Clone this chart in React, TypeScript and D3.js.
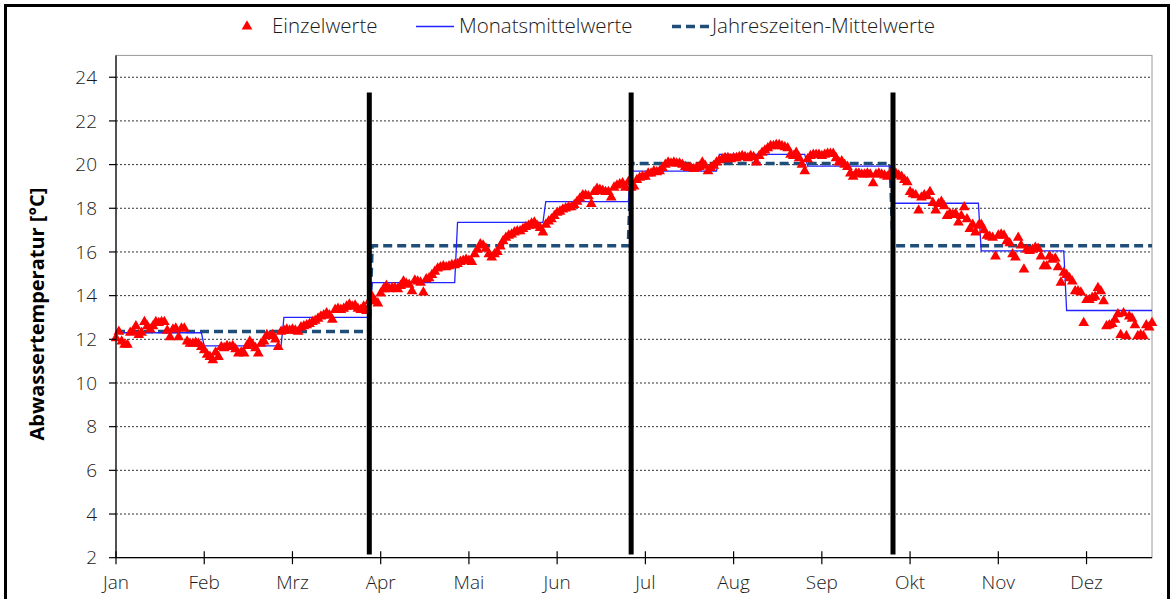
import * as d3 from "d3";

// Tageswerte (Einzelwerte) je Monat, °C
const jan = [12.05, 12.35, 11.9, 11.75, 11.75, 12.3, 12.35, 12.6, 12.2, 12.3, 12.8, 12.6, 12.45, 12.6, 12.8, 12.75, 12.8, 12.8, 12.4, 12.1, 12.45, 12.5, 12.1, 12.5, 12.5, 11.9, 11.8, 11.8, 11.85, 11.8, 11.65];
const feb = [11.5, 11.3, 11.2, 11.05, 11.4, 11.2, 11.65, 11.6, 11.7, 11.65, 11.7, 11.55, 11.35, 11.4, 11.35, 11.7, 11.9, 11.75, 11.6, 11.35, 11.8, 11.9, 12.2, 12.15, 12.2, 12.0, 11.65, 12.35];
const mrz = [12.4, 12.45, 12.4, 12.45, 12.4, 12.35, 12.55, 12.6, 12.65, 12.7, 12.8, 12.85, 12.95, 13.05, 13.1, 13.2, 13.1, 12.9, 13.35, 13.4, 13.35, 13.4, 13.5, 13.6, 13.5, 13.55, 13.4, 13.35, 13.5, 13.3, 13.75];
const apr = [13.95, 13.75, 13.65, 14.1, 14.3, 14.45, 14.3, 14.35, 14.35, 14.3, 14.45, 14.65, 14.55, 14.5, 14.2, 14.7, 14.65, 14.6, 14.15, 14.75, 14.8, 14.95, 15.1, 15.25, 15.3, 15.35, 15.3, 15.35, 15.4, 15.4];
const mai = [15.45, 15.55, 15.6, 15.65, 15.6, 15.55, 15.9, 16.1, 16.35, 16.3, 16.15, 15.9, 15.75, 15.9, 16.0, 16.25, 16.5, 16.65, 16.75, 16.8, 16.9, 16.95, 16.95, 17.05, 17.15, 17.2, 17.3, 17.35, 17.2, 17.1, 16.9];
const jun = [17.25, 17.4, 17.5, 17.65, 17.8, 17.85, 17.95, 18.0, 18.05, 18.05, 18.15, 18.3, 18.45, 18.6, 18.6, 18.55, 18.2, 18.75, 18.9, 18.85, 18.8, 18.75, 18.75, 18.5, 18.95, 19.05, 19.1, 19.15, 18.95, 19.2];
const jul = [18.95, 19.0, 19.3, 19.4, 19.45, 19.45, 19.6, 19.6, 19.7, 19.65, 19.7, 19.85, 20.0, 20.1, 20.05, 20.1, 20.05, 20.05, 20.0, 19.9, 19.85, 19.85, 19.8, 19.85, 19.9, 20.1, 19.95, 19.7, 19.85, 19.95, 20.1];
const aug = [20.2, 20.25, 20.3, 20.3, 20.25, 20.3, 20.3, 20.35, 20.4, 20.35, 20.3, 20.4, 20.35, 20.1, 20.4, 20.55, 20.65, 20.75, 20.85, 20.85, 20.9, 20.9, 20.85, 20.8, 20.75, 20.45, 20.4, 20.55, 20.3, 20.0, 19.7];
const sep = [20.25, 20.4, 20.45, 20.45, 20.45, 20.4, 20.45, 20.5, 20.5, 20.5, 20.3, 20.1, 20.15, 20.0, 19.9, 19.6, 19.45, 19.6, 19.6, 19.55, 19.55, 19.6, 19.55, 19.15, 19.55, 19.6, 19.55, 19.5, 19.45, 19.6];
const okt = [19.65, 19.6, 19.5, 19.45, 19.3, 19.2, 18.75, 18.65, 18.6, 17.9, 18.5, 18.6, 18.55, 18.75, 18.25, 17.9, 18.2, 18.3, 18.1, 17.65, 17.75, 17.7, 17.75, 17.35, 17.65, 18.05, 17.5, 17.05, 17.25, 16.9, 17.2];
const nov = [17.25, 17.0, 16.75, 16.7, 16.65, 15.8, 16.75, 16.8, 16.75, 16.5, 16.4, 15.9, 15.75, 16.65, 16.3, 15.2, 16.1, 16.05, 16.1, 16.2, 16.15, 15.8, 15.35, 15.35, 15.8, 15.65, 15.7, 15.3, 14.6, 15.05];
const dez = [14.95, 14.8, 14.65, 14.2, 14.2, 14.15, 12.75, 13.8, 13.8, 13.9, 13.95, 14.35, 14.2, 13.75, 12.6, 12.65, 12.7, 12.9, 13.15, 12.2, 13.2, 12.15, 13.05, 12.95, 12.65, 12.15, 12.2, 12.15, 12.65, 12.55, 12.75];

const monthNames = ["Jan", "Feb", "Mrz", "Apr", "Mai", "Jun", "Jul", "Aug", "Sep", "Okt", "Nov", "Dez"];
const monthMeans = [12.3, 11.7, 13.0, 14.6, 17.35, 18.3, 19.7, 20.47, 19.93, 18.23, 16.05, 13.32];
const seasonMeans = [12.36, 16.28, 20.05, 16.28];
const seasonBreaks = [89, 181, 273]; // Tag-Index der Jahreszeitenwechsel
const yTicks = [2, 4, 6, 8, 10, 12, 14, 16, 18, 20, 22, 24];

const W = 1176;
const H = 599;
const font = "'Open Sans', 'DejaVu Sans', sans-serif";

const months = [jan, feb, mrz, apr, mai, jun, jul, aug, sep, okt, nov, dez];

export default function App() {
    const daily = months.flat();
    const monthly = months.flatMap((m, i) => m.map(() => monthMeans[i]));
    const seasonal = months.flatMap((m, i) => m.map(() => seasonMeans[Math.floor(i / 3)]));

    // Kategorienachse: 365 Tage, Teilstriche alle 31 Tage
    const x = d3.scaleLinear().domain([0, daily.length - 1]).range([116, 1152]);
    const y = d3.scaleLinear().domain([2, 25]).range([557.7, 55.4]);
    const tickDays = monthNames.map((_, i) => i * 31);

    const line = d3.line<number>().x((_, i) => x(i)).y((d) => y(d));
    const tri = d3.symbol(d3.symbolTriangle, 50)() as string;

    const [x0, x1] = x.range();
    const [yb, yt] = y.range();

    return (
        <svg width={W} height={H} style={{ position: "absolute", left: 0, top: 0, background: "#fff" }} fontFamily={font}>
            <rect x={0} y={0} width={W} height={H} fill="#fff" />
            {/* Rahmen */}
            <rect x={5.5} y={5.5} width={1163} height={620} fill="none" stroke="#000" strokeWidth={3} />

            {/* Legende */}
            <g fontSize={20.5} fill="#1a1a1a" fontWeight={300}>
                <path d={tri} transform="translate(247,26.5)" fill="#ff0000" />
                <text x={272} y={33}>Einzelwerte</text>
                <line x1={416} x2={454} y1={26.5} y2={26.5} stroke="#2323ff" strokeWidth={1.3} />
                <text x={459} y={33}>Monatsmittelwerte</text>
                <line x1={672} x2={712} y1={26.5} y2={26.5} stroke="#1f4e79" strokeWidth={3.5} strokeDasharray="9,5" />
                <text x={712} y={33}>Jahreszeiten-Mittelwerte</text>
            </g>

            {/* Gitterlinien */}
            {yTicks.filter((t) => t > 2).map((t) => (
                <line key={t} x1={x0} x2={x1} y1={y(t)} y2={y(t)} stroke="#333" strokeWidth={1} strokeDasharray="2,2" />
            ))}
            <rect x={x0} y={yt} width={x1 - x0} height={yb - yt} fill="none" stroke="#9a9a9a" strokeWidth={1} />

            {/* Reihen */}
            <path d={line(seasonal) ?? ""} fill="none" stroke="#1f4e79" strokeWidth={3.5} strokeDasharray="9,5" />
            <path d={line(monthly) ?? ""} fill="none" stroke="#2323ff" strokeWidth={1.3} />
            <g fill="#ff0000">
                {daily.map((v, i) => (
                    <path key={i} d={tri} transform={`translate(${x(i)},${y(v)})`} />
                ))}
            </g>

            {/* Jahreszeitenwechsel */}
            {seasonBreaks.map((d) => (
                <line key={d} x1={x(d)} x2={x(d)} y1={y(23.3)} y2={y(2.15)} stroke="#000" strokeWidth={5} />
            ))}

            {/* Achsen */}
            <line x1={x0} x2={x0} y1={yt} y2={yb} stroke="#000" strokeWidth={1.2} />
            <line x1={x0} x2={x1} y1={yb} y2={yb} stroke="#000" strokeWidth={1.2} />
            <g fontSize={19} fill="#1a1a1a" fontWeight={300}>
                {yTicks.map((t) => (
                    <g key={t}>
                        <line x1={x0 - 7} x2={x0} y1={y(t)} y2={y(t)} stroke="#000" strokeWidth={1.2} />
                        <text x={97} y={y(t)} dy="0.35em" textAnchor="end">{t}</text>
                    </g>
                ))}
                {tickDays.map((d, i) => (
                    <g key={d}>
                        <line x1={x(d)} x2={x(d)} y1={yb - 6.5} y2={yb + 6.5} stroke="#000" strokeWidth={1.2} />
                        <text x={x(d)} y={589} textAnchor="middle">{monthNames[i]}</text>
                    </g>
                ))}
            </g>
            <text transform="translate(44,314) rotate(-90)" textAnchor="middle" fontSize={20} fontWeight="bold" fill="#000">
                Abwassertemperatur [°C]
            </text>
        </svg>
    );
}
